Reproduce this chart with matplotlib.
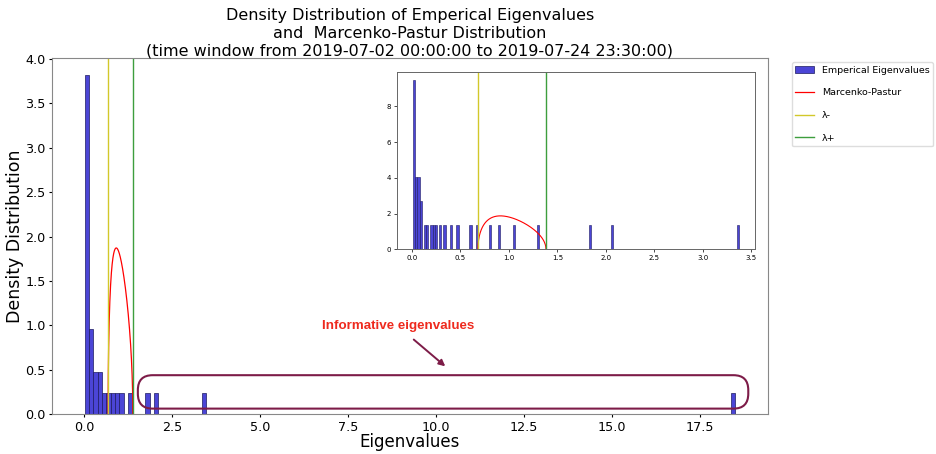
import numpy as np
import matplotlib
matplotlib.use("Agg")
import matplotlib.pyplot as plt
from matplotlib.patches import FancyBboxPatch, Patch
from matplotlib.lines import Line2D

# Eigenvalues of the empirical correlation matrix (34 assets)
eigenvalues = [
    0.010, 0.014, 0.018, 0.021, 0.025, 0.028, 0.031,
    0.036, 0.042, 0.050,
    0.058, 0.064, 0.072,
    0.082, 0.094,
    0.128, 0.155, 0.198, 0.222, 0.245,
    0.292, 0.338, 0.402, 0.468,
    0.607, 0.673, 0.806, 0.900, 1.058,
    1.300, 1.837, 2.062, 3.370, 18.50,
]

# Marcenko-Pastur parameters: N assets over T half-hour observations
n_assets = 34
n_obs = 1104
sigma2 = 1.0
q = n_assets / n_obs
lam_minus = sigma2 * (1 - np.sqrt(q)) ** 2
lam_plus = sigma2 * (1 + np.sqrt(q)) ** 2

title_lines = [
    "Density Distribution of Emperical Eigenvalues",
    "and  Marcenko-Pastur Distribution",
    "(time window from 2019-07-02 00:00:00 to 2019-07-24 23:30:00)",
]

bar_face = "#4b45d6"
bar_edge = "#1c1a60"
box_color = "#7d1c48"


def mp_density(x):
    return np.sqrt((lam_plus - x) * (x - lam_minus)) / (2 * np.pi * q * sigma2 * x)


xs = np.linspace(lam_minus, lam_plus, 600)
ys = mp_density(xs)

fig = plt.figure(figsize=(9.36, 4.54), dpi=100)
ax = fig.add_axes([52 / 936, 39.7 / 454, 715.8 / 936, 356.3 / 454])

ax.hist(eigenvalues, bins=150, density=True, color=bar_face,
        edgecolor=bar_edge, linewidth=0.5, label="Emperical Eigenvalues")
ax.plot(xs, ys, color="red", lw=0.9, label="Marcenko-Pastur")
ax.axvline(lam_minus, color="#d2c82a", lw=1.0, label="λ-")
ax.axvline(lam_plus, color="#3d9e3d", lw=1.0, label="λ+")

ax.set_xticks(np.arange(0, 17.6, 2.5))
ax.set_yticks(np.arange(0, 4.01, 0.5))
ax.tick_params(labelsize=9.2, length=2.5, pad=2)
ax.set_xlabel("Eigenvalues", fontsize=12)
ax.xaxis.set_label_coords(0.5, -0.052)
ax.set_ylabel("Density Distribution", fontsize=12.5, va="center")
ax.yaxis.set_label_coords(-0.052, 0.5)
ax.set_title("\n".join(title_lines), fontsize=11.5, pad=2, linespacing=1.2)
for s in ax.spines.values():
    s.set_color("#888888")

# Highlight of the eigenvalues above the Marcenko-Pastur upper edge
box = FancyBboxPatch((1.525, 0.064), 18.87 - 1.525, 0.44 - 0.064,
                     boxstyle="round,pad=0,rounding_size=0.42",
                     mutation_aspect=0.40, fill=False,
                     edgecolor=box_color, lw=1.5, zorder=5)
ax.add_patch(box)
ax.annotate("Informative eigenvalues", xy=(10.26, 0.54), xytext=(8.92, 0.99),
            ha="center", va="center", color="#ee2a1e", fontsize=9.6,
            fontweight="bold", family="Liberation Sans",
            arrowprops=dict(arrowstyle="-|>", color=box_color, lw=1.4,
                            mutation_scale=9, shrinkA=5, shrinkB=0))

handles = [
    Patch(facecolor=bar_face, edgecolor=bar_edge, linewidth=0.5),
    Line2D([], [], color="red", lw=0.9),
    Line2D([], [], color="#d2c82a", lw=1.0),
    Line2D([], [], color="#3d9e3d", lw=1.0),
]
labels = ["Emperical Eigenvalues", "Marcenko-Pastur", "λ-", "λ+"]
ax.legend(handles, labels, loc="upper left", bbox_to_anchor=(1.028, 1.0),
          fontsize=6.8, labelspacing=1.45, handlelength=2.0,
          borderaxespad=0.4, framealpha=1.0, edgecolor="#dddddd")

# Inset zoom on the bulk of the spectrum (largest eigenvalue removed)
ins = fig.add_axes([396.7 / 936, (454 - 249.3) / 454, 358.3 / 936, 177.6 / 454])
ins.hist(eigenvalues[:-1], bins=150, density=True, color=bar_face,
         edgecolor=bar_edge, linewidth=0.4)
ins.plot(xs, ys, color="red", lw=0.8)
ins.axvline(lam_minus, color="#d2c82a", lw=1.0)
ins.axvline(lam_plus, color="#3d9e3d", lw=1.0)
ins.set_xticks(np.arange(0, 3.51, 0.5))
ins.set_yticks([0, 2, 4, 6, 8])
ins.tick_params(labelsize=5, length=2, width=0.5, pad=2)
for s in ins.spines.values():
    s.set_color("#666666")
    s.set_linewidth(0.7)

fig.savefig("out.png", dpi=100)
